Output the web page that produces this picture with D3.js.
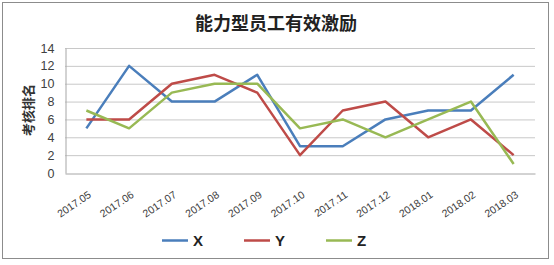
<!DOCTYPE html>
<html><head><meta charset="utf-8">
<script src="https://cdn.jsdelivr.net/npm/d3@7"></script>
<style>body{margin:0;background:#fff}svg{display:block}</style>
</head><body><svg id="c" width="554" height="265"></svg>
<script>
const categories = ["2017.05","2017.06","2017.07","2017.08","2017.09","2017.10","2017.11","2017.12","2018.01","2018.02","2018.03"];
const seriesX = [5,12,8,8,11,3,3,6,7,7,11];
const seriesY = [6,6,10,11,9,2,7,8,4,6,2];
const seriesZ = [7,5,9,10,10,5,6,4,6,8,1];
const yTicks = [0,2,4,6,8,10,12,14];
const seriesNames = ["X","Y","Z"];
const colors = ["#4a7ebb","#be4b48","#98b954"];
const title = "能力型员工有效激励";
const yTitle = "考核排名";

const svg = d3.select("#c");
svg.append("rect").attr("x",2.5).attr("y",2.5).attr("width",546).attr("height",256)
  .attr("fill","#fff").attr("stroke","#8c8c8c").attr("stroke-width",1);

const L=65,R=535,T=48,B=173;
const x = d3.scaleBand().domain(categories).range([L,R]);
const y = d3.scaleLinear().domain([0,14]).range([B,T]);

// gridlines
svg.append("g").selectAll("line").data(yTicks.filter(d=>d>0)).join("line")
  .attr("x1",L).attr("x2",R).attr("y1",d=>y(d)+0.5).attr("y2",d=>y(d)+0.5)
  .attr("stroke","#c8c8c8").attr("stroke-width",1);

// y axis
const ya = svg.append("g").attr("transform",`translate(${L+0.5},0)`)
  .call(d3.axisLeft(y).tickValues(yTicks).tickSize(0).tickPadding(11));
ya.select(".domain").attr("stroke","#a6a6a6");
ya.selectAll("text").attr("font-family","'Liberation Sans',Arial,sans-serif").attr("font-size",12.5).attr("fill","#404040");

// x axis
const xa = svg.append("g").attr("transform",`translate(0,${B+0.5})`)
  .call(d3.axisBottom(x).tickSize(0).tickPadding(0));
xa.select(".domain").attr("stroke","#a6a6a6");
xa.selectAll("text").attr("font-family","'Liberation Sans',Arial,sans-serif").attr("font-size",10.5).attr("fill","#404040")
  .attr("text-anchor","end").attr("dy","0")
  .attr("transform","translate(5.5,23) rotate(-34)");

const allSeries=[seriesX,seriesY,seriesZ];
const line = d3.line().x((d,i)=>x(categories[i])+x.bandwidth()/2).y(d=>y(d));
allSeries.forEach((s,k)=>{
  svg.append("path").datum(s).attr("d",line).attr("fill","none")
    .attr("stroke",colors[k]).attr("stroke-width",2.5).attr("stroke-linejoin","round");
});

// title
svg.append("text").attr("x",276).attr("y",30).attr("text-anchor","middle")
  .attr("font-family","'Noto Sans CJK SC',sans-serif").attr("font-weight","bold").attr("font-size",18)
  .attr("fill","#222").text(title);
// y title
svg.append("text").attr("transform","translate(33,110) rotate(-90)").attr("text-anchor","middle")
  .attr("font-family","'Noto Sans CJK SC',sans-serif").attr("font-weight","bold").attr("font-size",13)
  .attr("fill","#333").text(yTitle);

// legend
const lx=[162,244,326];
seriesNames.forEach((n,k)=>{
  svg.append("line").attr("x1",lx[k]).attr("x2",lx[k]+26).attr("y1",240.5).attr("y2",240.5)
    .attr("stroke",colors[k]).attr("stroke-width",2.5);
  svg.append("text").attr("x",lx[k]+31).attr("y",246).attr("font-family","'Liberation Sans',Arial,sans-serif")
    .attr("font-weight","bold").attr("font-size",15).attr("fill","#222").text(n);
});
</script></body></html>
